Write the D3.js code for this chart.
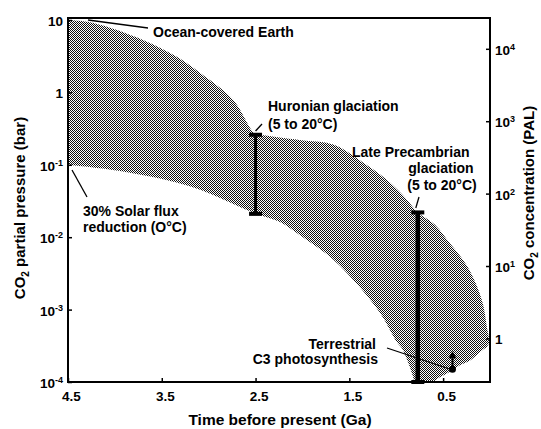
<!DOCTYPE html>
<html>
<head>
<meta charset="utf-8">
<script src="https://cdn.jsdelivr.net/npm/d3@7"></script>
<style>
  body { margin: 0; background: #fff; }
  text { font-family: "Liberation Sans", Arial, sans-serif; font-weight: bold; fill: #000; }
</style>
</head>
<body>
<script>
// upper edge of the CO2 band (Ga, bar), left to right
var upperGa  = [4.5, 4.23, 3.7, 3.34, 3.09, 2.74, 2.51, 2.45, 2.03, 1.67, 1.39, 1.10, 0.886, 0.77, 0.59, 0.43, 0.24, 0.086, 0.033, 0.01];
var upperBar = [10, 9.1, 5.3, 3.1, 1.85, 0.79, 0.27, 0.26, 0.22, 0.19, 0.116, 0.062, 0.033, 0.022, 0.015, 0.0083, 0.0039, 0.00135, 0.00057, 0.00035];
// lower edge (Ga, bar), left to right
var lowerGa  = [4.5, 3.87, 3.17, 2.51, 2.24, 2.03, 1.67, 1.39, 1.17, 0.99, 0.93, 0.854, 0.82, 0.79, 0.67, 0.53, 0.43, 0.32, 0.21, 0.076, 0.04];
var lowerBar = [0.1, 0.079, 0.049, 0.0215, 0.0162, 0.0107, 0.0049, 0.00205, 0.00089, 0.00035, 0.00028, 0.00016, 0.000117, 0.00009, 0.00009, 0.000117, 0.000137, 0.00017, 0.0002, 0.00028, 0.0003];

var xTicks = [4.5, 3.5, 2.5, 1.5, 0.5];
var barTicks = [1e-4, 1e-3, 1e-2, 1e-1, 1, 10];
var barLabels = [["10", "-4"], ["10", "-3"], ["10", "-2"], ["10", "-1"], ["1", ""], ["10", ""]];
var palTicks = [1, 10, 100, 1000, 10000];
var palLabels = [["1", ""], ["10", "1"], ["10", "2"], ["10", "3"], ["10", "4"]];
var palBar = 4e-4; // 1 PAL in bar

var glaciations = [
  { ga: 2.5, lo: 0.021, hi: 0.26, w: 3, cap: 13 },
  { ga: 0.77, lo: 1e-4, hi: 0.022, w: 4.5, cap: 13 }
];
var c3Ga = 0.4, c3Bar = 1.5e-4, c3Top = 2.5e-4;

var width = 541, height = 429;
var mLeft = 68, mRight = 490, mTop = 18, mBottom = 382;

var svg = d3.select("body").append("svg")
  .attr("width", width)
  .attr("height", height);

var x = d3.scaleLinear().domain([4.5, 0]).range([mLeft, mRight]);
var y = d3.scaleLog().domain([1e-4, 10]).range([mBottom, 20]);
var yPal = d3.scaleLog().domain([1e-4 / palBar, 10 / palBar]).range([mBottom, 20]);

var defs = svg.append("defs");
var pat = defs.append("pattern")
  .attr("id", "dots")
  .attr("width", 2).attr("height", 2)
  .attr("patternUnits", "userSpaceOnUse");
pat.append("rect").attr("width", 2).attr("height", 2).attr("fill", "#fff");
pat.append("rect").attr("x", 0).attr("y", 0).attr("width", 1).attr("height", 1).attr("fill", "#111");
pat.append("rect").attr("x", 1).attr("y", 1).attr("width", 1).attr("height", 1).attr("fill", "#111");

defs.append("clipPath").attr("id", "plot")
  .append("rect")
  .attr("x", mLeft).attr("y", mTop)
  .attr("width", mRight - mLeft).attr("height", mBottom - mTop);

// band outline
var outline = upperGa.map((g, i) => [g, upperBar[i]])
  .concat(lowerGa.map((g, i) => [g, lowerBar[i]]).reverse());

var line = d3.line()
  .x(d => x(d[0]))
  .y(d => y(d[1]))
  .curve(d3.curveCatmullRom);

svg.append("path")
  .attr("clip-path", "url(#plot)")
  .attr("d", line(outline) + "Z")
  .attr("fill", "url(#dots)")
  .attr("stroke", "none");

// glaciation bars
var gl = svg.append("g");
glaciations.forEach(function(g) {
  gl.append("line")
    .attr("x1", x(g.ga)).attr("x2", x(g.ga))
    .attr("y1", y(g.lo)).attr("y2", y(g.hi))
    .attr("stroke", "#000").attr("stroke-width", g.w);
  [g.lo, g.hi].forEach(function(v) {
    gl.append("rect")
      .attr("x", x(g.ga) - g.cap / 2).attr("y", y(v) - 2)
      .attr("width", g.cap).attr("height", 4)
      .attr("fill", "#000");
  });
});

// terrestrial C3 arrow
svg.append("line")
  .attr("x1", x(c3Ga)).attr("x2", x(c3Ga))
  .attr("y1", y(c3Bar)).attr("y2", y(c3Top) + 4)
  .attr("stroke", "#000").attr("stroke-width", 2);
svg.append("path")
  .attr("d", "M" + (x(c3Ga) - 4) + "," + (y(c3Top) + 5) + "L" + x(c3Ga) + "," + (y(c3Top) - 2) + "L" + (x(c3Ga) + 4) + "," + (y(c3Top) + 5) + "Z")
  .attr("fill", "#000");
svg.append("circle")
  .attr("cx", x(c3Ga)).attr("cy", y(c3Bar)).attr("r", 3.5)
  .attr("fill", "#000");

// axes
function supText(sel, parts) {
  sel.text(null);
  sel.append("tspan").text(parts[0]);
  if (parts[1]) sel.append("tspan").attr("dy", "-5").attr("font-size", "9px").text(parts[1]);
}

var xAxis = svg.append("g")
  .attr("transform", "translate(0," + mBottom + ")")
  .call(d3.axisBottom(x).tickValues(xTicks).tickSize(-4).tickPadding(9).tickFormat(d3.format(".1f")));
xAxis.selectAll("text").attr("font-size", "13.5px").attr("dx", 3);

var yAxis = svg.append("g")
  .attr("transform", "translate(" + mLeft + ",0)")
  .call(d3.axisLeft(y).tickValues(barTicks).tickSize(-4).tickPadding(5));
yAxis.selectAll(".tick text").each(function(d, i) {
  supText(d3.select(this), barLabels[i]);
}).attr("font-size", "13.5px").attr("dy", "0.4em");

var yAxisR = svg.append("g")
  .attr("transform", "translate(" + mRight + ",0)")
  .call(d3.axisRight(yPal).tickValues(palTicks).tickSize(-4).tickPadding(5));
yAxisR.selectAll(".tick text").each(function(d, i) {
  supText(d3.select(this), palLabels[i]);
}).attr("font-size", "13.5px").attr("dy", "0.4em");

svg.selectAll(".domain").remove();
svg.selectAll(".tick line").attr("stroke", "#000").attr("stroke-width", 1.5);

svg.append("rect")
  .attr("x", mLeft).attr("y", mTop)
  .attr("width", mRight - mLeft).attr("height", mBottom - mTop)
  .attr("fill", "none").attr("stroke", "#000").attr("stroke-width", 2);

// axis titles
svg.append("text")
  .attr("x", 280).attr("y", 425)
  .attr("text-anchor", "middle").attr("font-size", "15.5px")
  .text("Time before present (Ga)");

var yl = svg.append("text")
  .attr("transform", "translate(25,208) rotate(-90)")
  .attr("text-anchor", "middle").attr("font-size", "15px");
yl.append("tspan").text("CO");
yl.append("tspan").attr("dy", 4).attr("font-size", "10px").text("2");
yl.append("tspan").attr("dy", -4).text(" partial pressure (bar)");

var yr = svg.append("text")
  .attr("transform", "translate(534,193) rotate(-90)")
  .attr("text-anchor", "middle").attr("font-size", "15px");
yr.append("tspan").text("CO");
yr.append("tspan").attr("dy", 4).attr("font-size", "10px").text("2");
yr.append("tspan").attr("dy", -4).text(" concentration (PAL)");

// annotations
var notes = svg.append("g").attr("font-size", "14px");
function note(tx, ty, str, anchor) {
  notes.append("text").attr("x", tx).attr("y", ty)
    .attr("text-anchor", anchor || "start").text(str);
}
function leader(x1, y1, x2, y2) {
  svg.append("line").attr("x1", x1).attr("y1", y1).attr("x2", x2).attr("y2", y2)
    .attr("stroke", "#000").attr("stroke-width", 1.3);
}

note(153, 37, "Ocean-covered Earth");
leader(88, 20, 148, 28);

note(83, 216, "30% Solar flux");
note(83, 232, "reduction (O°C)");
leader(x(4.5) + 4, 170, 87, 197);

note(268, 111, "Huronian glaciation");
note(268, 129, "(5 to 20°C)");
leader(x(2.5), 131, 262, 124);

note(352, 157, "Late Precambrian");
note(441, 173, "glaciation", "middle");
note(442, 190, "(5 to 20°C)", "middle");
leader(x(0.77) - 2, 208, 419, 197);

note(376, 349, "Terrestrial", "end");
note(378, 364, "C3 photosynthesis", "end");
leader(387, 348, x(c3Ga) - 2, y(c3Bar));
</script>
</body>
</html>
